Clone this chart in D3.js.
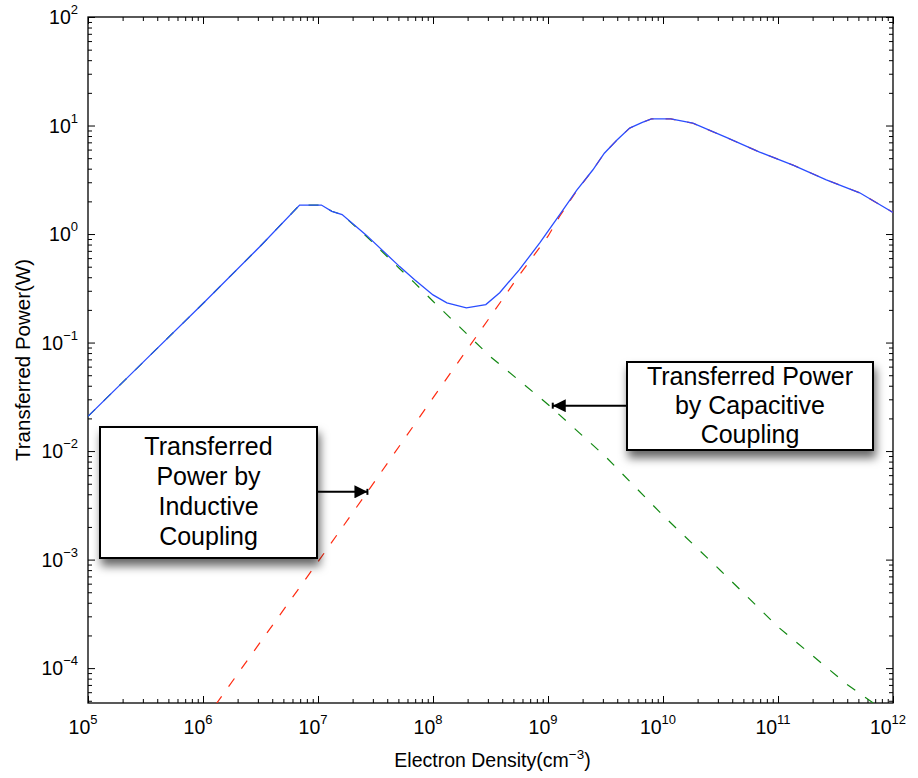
<!DOCTYPE html>
<html>
<head>
<meta charset="utf-8">
<script src="https://cdn.jsdelivr.net/npm/d3@7"></script>
<style>
  body { margin: 0; background: #fff; }
  text { font-family: "Liberation Sans", Arial, sans-serif; fill: #000; }
</style>
</head>
<body>
<div id="chart"></div>
<script>
var chart_width  = 918;
var chart_height = 778;
var margin = {left: 88, right: 25, top: 17, bottom: 75};

// Capacitive coupling (green dashed)
var cap_density = [1e5, 3.16e5, 1e6, 3.16e6, 6.92e6, 1.07e7, 1.32e7, 1.62e7, 2.63e7, 5.13e7, 6.92e7,
                   1e8, 3.16e8, 1e9, 3.16e9, 1e10, 3.16e10, 1e11, 3.98e11, 1e12];
var cap_power   = [0.0209, 0.0692, 0.229, 0.776, 1.85, 1.85, 1.62, 1.51, 0.955, 0.479, 0.355,
                   0.240, 0.0741, 0.0269, 0.00891, 0.00255, 7.94e-4, 2.40e-4, 7.08e-5, 3.55e-5];

// Inductive coupling (red dashed)
var ind_density = [1e6, 3.16e6, 1e7, 2.69e7, 1e8, 3.16e8, 5.62e8, 1e9, 1.26e9, 1.78e9, 2.45e9, 3.09e9,
                   3.98e9, 5.13e9, 6.61e9, 7.94e9, 1.17e10, 1.82e10, 3.55e10, 6.92e10, 1.35e11,
                   2.63e11, 5.13e11, 1e12];
var ind_power   = [3.16e-5, 1.74e-4, 9.55e-4, 4.21e-3, 0.0309, 0.174, 0.417, 0.955, 1.45, 2.51, 3.89, 5.56,
                   7.35, 9.46, 10.7, 11.5, 11.5, 10.5, 7.76, 5.69, 4.32, 3.16, 2.40, 1.58];

// Total transferred power (blue solid)
var tot_density = [1e5, 3.16e5, 1e6, 3.16e6, 6.92e6, 1.07e7, 1.32e7, 1.62e7, 2.63e7, 5.13e7, 6.92e7,
                   1e8, 1.32e8, 1.95e8, 2.88e8, 3.8e8, 5.62e8, 8.51e8, 1.26e9, 1.78e9, 2.45e9, 3.09e9,
                   3.98e9, 5.13e9, 6.61e9, 7.94e9, 1.17e10, 1.82e10, 3.55e10, 6.92e10, 1.35e11,
                   2.63e11, 5.13e11, 1e12];
var tot_power   = [0.0209, 0.0692, 0.229, 0.776, 1.85, 1.85, 1.62, 1.51, 0.977, 0.501, 0.380,
                   0.275, 0.232, 0.209, 0.224, 0.288, 0.468, 0.832, 1.50, 2.54, 3.89, 5.56,
                   7.35, 9.46, 10.7, 11.5, 11.5, 10.5, 7.76, 5.69, 4.32, 3.16, 2.40, 1.58];

var x_exponents = [5, 6, 7, 8, 9, 10, 11, 12];
var y_exponents = [-4, -3, -2, -1, 0, 1, 2];

var notes = [
  {lines: ['Transferred', 'Power by', 'Inductive', 'Coupling'], density: 2.69e7, power: 4.21e-3},
  {lines: ['Transferred Power', 'by Capacitive', 'Coupling'], density: 1.1e9, power: 0.0262}
];

function zip(xs, ys) {
  return xs.map(function(d, i) { return {x: d, y: ys[i]}; });
}

var svg = d3.select('#chart')
  .append('svg')
  .attr('width', chart_width)
  .attr('height', chart_height);

var defs = svg.append('defs');
var shadow = defs.append('filter').attr('id', 'shadow')
  .attr('x', '-20%').attr('y', '-20%').attr('width', '150%').attr('height', '160%');
shadow.append('feDropShadow')
  .attr('dx', 2).attr('dy', 7).attr('stdDeviation', 5)
  .attr('flood-color', '#000').attr('flood-opacity', 0.6);
defs.append('clipPath').attr('id', 'clip')
  .append('rect')
  .attr('x', margin.left).attr('y', margin.top)
  .attr('width', chart_width - margin.left - margin.right)
  .attr('height', chart_height - margin.top - margin.bottom);
defs.append('marker').attr('id', 'head')
  .attr('viewBox', '0 0 10 10').attr('refX', 10).attr('refY', 5)
  .attr('markerWidth', 18).attr('markerHeight', 13)
  .attr('markerUnits', 'userSpaceOnUse')
  .attr('orient', 'auto')
  .append('path').attr('d', 'M0,0L10,5L0,10Z').attr('fill', '#000');

var x_scale = d3.scaleLog()
  .domain([1e5, 1e12])
  .range([margin.left, chart_width - margin.right]);

var y_scale = d3.scaleLog()
  .domain([4.77e-5, 100])
  .range([chart_height - margin.bottom, margin.top]);

var x0 = margin.left, x1 = chart_width - margin.right;
var y0 = chart_height - margin.bottom, y1 = margin.top;

// minor + major tick values
var x_minor = [], y_minor = [];
x_exponents.slice(0, -1).forEach(function(e) {
  for (var k = 2; k <= 9; k++) x_minor.push(k * Math.pow(10, e));
});
[-5, -4, -3, -2, -1, 0, 1].forEach(function(e) {
  for (var k = 2; k <= 9; k++) {
    var v = k * Math.pow(10, e);
    if (v >= 4.77e-5 && v <= 100) y_minor.push(v);
  }
});
var x_major = x_exponents.map(function(e) { return Math.pow(10, e); });
var y_major = y_exponents.map(function(e) { return Math.pow(10, e); });

function draw_axis(axis, tx, ty) {
  var g = svg.append('g').attr('transform', 'translate(' + tx + ',' + ty + ')').call(axis);
  g.select('.domain').remove();
  g.selectAll('line').attr('stroke', '#000').attr('stroke-width', 1);
  g.selectAll('text').remove();
}

draw_axis(d3.axisBottom(x_scale).tickValues(x_major).tickSize(-7), 0, y0);
draw_axis(d3.axisBottom(x_scale).tickValues(x_minor).tickSize(-4), 0, y0);
draw_axis(d3.axisTop(x_scale).tickValues(x_major).tickSize(-7), 0, y1);
draw_axis(d3.axisTop(x_scale).tickValues(x_minor).tickSize(-4), 0, y1);
draw_axis(d3.axisLeft(y_scale).tickValues(y_major).tickSize(-7), x0, 0);
draw_axis(d3.axisLeft(y_scale).tickValues(y_minor).tickSize(-4), x0, 0);
draw_axis(d3.axisRight(y_scale).tickValues(y_major).tickSize(-7), x1, 0);
draw_axis(d3.axisRight(y_scale).tickValues(y_minor).tickSize(-4), x1, 0);

// frame
svg.append('rect')
  .attr('x', x0).attr('y', y1)
  .attr('width', x1 - x0).attr('height', y0 - y1)
  .attr('fill', 'none').attr('stroke', '#000').attr('stroke-width', 1.3);

function exp_label(e) {
  return e < 0 ? '\u2212' + (-e) : String(e);
}

// x tick labels
var xl = svg.append('g').selectAll('text')
  .data(x_exponents).enter().append('text')
  .attr('x', function(d) { return x_scale(Math.pow(10, d)) - 5; })
  .attr('y', y0 + 31)
  .attr('text-anchor', 'middle')
  .style('font-size', '19.5px');
xl.append('tspan').text('10');
xl.append('tspan').attr('dy', -10).style('font-size', '13px').text(function(d) { return exp_label(d); });

// y tick labels
var yl = svg.append('g').selectAll('text')
  .data(y_exponents).enter().append('text')
  .attr('x', 78)
  .attr('y', function(d) { return y_scale(Math.pow(10, d)) + 7; })
  .attr('text-anchor', 'end')
  .style('font-size', '19.5px');
yl.append('tspan').text('10');
yl.append('tspan').attr('dy', -10).style('font-size', '13px').text(function(d) { return exp_label(d); });

// axis titles
var xt = svg.append('text')
  .attr('x', (x0 + x1) / 2 + 2).attr('y', 767)
  .attr('text-anchor', 'middle')
  .style('font-size', '19.5px');
xt.append('tspan').text('Electron Density(cm');
xt.append('tspan').attr('dy', -8).style('font-size', '13.5px').text('\u22123');
xt.append('tspan').attr('dy', 8).text(')');

svg.append('text')
  .attr('transform', 'translate(30,' + ((y0 + y1) / 2) + ') rotate(-90)')
  .attr('text-anchor', 'middle')
  .style('font-size', '20.5px')
  .text('Transferred Power(W)');

// curves
var line = d3.line()
  .x(function(d) { return x_scale(d.x); })
  .y(function(d) { return y_scale(d.y); });

var plot = svg.append('g').attr('clip-path', 'url(#clip)');

plot.append('path')
  .datum(zip(cap_density, cap_power))
  .attr('d', line)
  .attr('fill', 'none').attr('stroke', '#118811').attr('stroke-width', 1.2)
  .attr('stroke-dasharray', '10,12');

plot.append('path')
  .datum(zip(ind_density, ind_power))
  .attr('d', line)
  .attr('fill', 'none').attr('stroke', '#ff2a10').attr('stroke-width', 1.2)
  .attr('stroke-dasharray', '10,12');

plot.append('path')
  .datum(zip(tot_density, tot_power))
  .attr('d', line)
  .attr('fill', 'none').attr('stroke', '#2a4dff').attr('stroke-width', 1.3);

// annotations
function note(n, bx, by, bw, bh, side, first, step) {
  var g = svg.append('g');
  var tip_x = x_scale(n.density), tip_y = y_scale(n.power);
  var start_x = side === 'right' ? bx + bw : bx;
  g.append('line')
    .attr('x1', start_x).attr('y1', tip_y)
    .attr('x2', tip_x).attr('y2', tip_y)
    .attr('stroke', '#000').attr('stroke-width', 2)
    .attr('marker-end', 'url(#head)');
  g.append('line')
    .attr('x1', tip_x).attr('y1', tip_y - 3)
    .attr('x2', tip_x).attr('y2', tip_y + 3)
    .attr('stroke', '#000').attr('stroke-width', 2);
  g.append('rect')
    .attr('x', bx).attr('y', by).attr('width', bw).attr('height', bh)
    .attr('fill', '#fff').attr('stroke', '#000').attr('stroke-width', 2)
    .attr('filter', 'url(#shadow)');
  g.selectAll('text.nt')
    .data(n.lines).enter().append('text')
    .attr('x', bx + bw / 2)
    .attr('y', function(d, i) { return by + first + step * i; })
    .attr('text-anchor', 'middle')
    .style('font-size', '25px')
    .text(function(d) { return d; });
}

note(notes[0], 100, 427, 217, 131, 'right', 28, 30);
note(notes[1], 627, 362, 246, 88, 'left', 23, 29);
</script>
</body>
</html>
